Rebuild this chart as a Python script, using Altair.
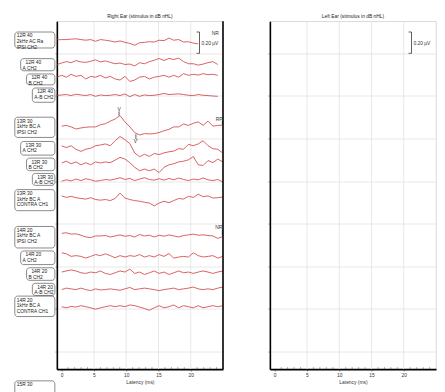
import altair as alt
import pandas as pd

# ---------------- data ----------------
TIME_MS = [-0.75, 0.0, 0.71, 1.46, 2.22, 2.98, 3.74, 4.49, 5.25, 6.01, 6.77, 7.53,
           8.28, 9.04, 9.8, 10.56, 11.31, 12.07, 12.83, 13.59, 14.34, 15.1, 15.86,
           16.62, 17.37, 18.13, 18.89, 19.65, 20.4, 21.16, 21.92, 22.68, 23.43,
           24.19, 24.95]

# baseline offset of each trace (µV) and amplitudes (in 0.01 µV)
TRACE_OFFSET_UV = [-0.274, -0.488, -0.624, -0.794, -1.084, -1.268, -1.42,
                   -1.588, -1.756, -2.108, -2.30, -2.454, -2.612, -2.78]
N = None
T1 = [0, 0.3, 0.3, 0.7, 1, 0.3, -0.3, 0.3, -1.3, 0.3, -0.3, -1, -2, -1, -2.3, -3.3, -5, -2.7,
      -2.3, -1.7, -2, -0.3, -0.7, 1.7, -0.3, 0.3, -2, -1.7, -3, -3.7, N, N, N, N, N]
T2 = [-1.7, -0.3, 1, 0, 2, 0.7, 0.3, 1.3, 2.7, 0.7, 1.7, 0.3, -1, -0.3, -1.7, -1.3, -3, 0,
      -1, 1, 2.3, 4, 2, 4, 3, 4.3, 1, -1, -1, -2.3, -1.3, 0, 1, -1.7, N]
T3 = [0, 1.7, 0, 2.7, 0.7, 1.7, -1.7, 0.7, 0, 1.7, -0.7, 0.7, -1.7, -2.7, 0.7, -4, -2.7, 0,
      0.7, -1.7, 0, 0.7, 1.7, 0, 1.7, 0, 3.3, 1.7, 2.7, 2, 3.3, 2.3, 2.7, 1.7, N]
T4 = [-0.3, 0.3, 0.7, -0.3, 1, 0.3, -0.3, 0.7, -1, 0.3, -0.3, 0, 0.7, -0.3, 1.3, -1.3, 0.7, -1,
      0.3, -0.3, 0, 0.7, 1.7, 0.7, 1, 1.3, 0.7, 0, -0.3, 0.7, 0, -0.3, -0.7, -1, N]
T5 = [N, 0, 0.7, -0.7, -2.7, -1.7, -1, -0.7, -0.7, 1.3, 2.3, 4.7, 6.7, 10, 4, -0.7, -6, -8.3,
      -7, -7.3, -7, -6, -4.3, -3, -0.7, -0.7, 2, 0.7, 2.7, 4, 0.7, 4.7, 0, 0.7, 1]
T6 = [N, 0, -1.7, 0, -3.3, -5.3, -3.3, -2.3, 0, 0.7, 1.7, 0, 4.7, 8.7, 5.7, 2, -6.7, -10.3,
      -8, -10, -7.3, -8.3, -6.7, -5.7, -5, -2.7, -3.3, 1.3, 0, 1.7, 4.7, 0, -2.7, -3.3, -6.7]
T7 = [N, -1, 0.7, -1.7, 0, -2.7, -0.7, -2.7, 0, -1, 0, -0.7, 1.7, 4.3, 2.7, -0.7, -5, -8.3,
      -6.7, -8.3, -6.7, -10, -5, -2.7, -1.7, 0, 0.7, 2, 5, -2.7, -3.3, 1.3, -0.7, 2.7, 0]
T8 = [N, -1.3, 0, -1, 0.7, -0.7, 1, 0, -1.3, -0.7, 0.3, -0.3, 0.7, 2, 0.3, 1.3, -0.7, 0.7,
      2, 0.3, -0.3, 1, -0.3, 1.3, 0, 1.7, 0.3, -0.7, 0.7, 0, 1.7, 0, -0.7, 0.3, -2]
T9 = [N, 1.7, 0.3, 1.3, 0, -0.7, -1.3, 0, -1.7, -2.3, -1.7, -2.7, -0.7, 4.3, -0.3, -1.7, -2.7,
      -3.3, -4.3, -5, -7.7, -5, -3.3, -4.7, -2.7, -0.7, -1.3, 1.3, 0.3, 3.3, 1, 1.7, -0.3, 0, 0.7]
T10 = [N, 1.7, 2.3, 1, 1.3, 0, -1.7, -2.3, -0.7, -0.7, -0.3, -1.7, -0.7, 0.3, -1, -0.3, -1.7,
       0.7, -0.7, 0, -1.7, 0, -1, 0.3, -0.7, -1.7, -0.3, 0.3, 1, 0, 0.3, -0.3, -0.7, -3, -1.3]
T11 = [N, 2.7, 1.7, -0.7, 0, -0.7, -2.3, -0.7, 1, 0, 1.7, 0, -2, 0, -1.3, 0, -0.7, 1, -1.3,
       0, -1.3, 1, -0.7, 2, -2.3, -1.3, -0.7, -1.3, 2.7, 0, -1.3, -0.7, 0, -2.3, -0.7]
T12 = [N, 0, 1, 2, 1, -0.7, -1.3, 0, -0.7, 1, -1.3, -2.3, -0.7, 1, 0, 2.7, -1.3, 0, -2.3,
       -0.7, 1, -1.3, 0, -2.3, -0.7, 1, -0.7, 0, -1.3, 0, 1, 0, -1.3, 0, 1]
T13 = [N, -0.7, 0.7, 0, -0.7, 0.7, -0.7, -1.7, 0, -1, -0.7, 0, -0.7, -1.3, 0, 1.3, -0.7, 0,
       0.7, 0, -0.7, -1.7, -0.7, 0, 0.7, -0.7, 0, 0.7, 1.7, 0, -0.7, 0, -0.7, 0.7, 1.7]
T14 = [N, 0, -1, 0.3, -0.3, 1, 0, -1, -2.3, -1, 0, 1, 0, 1, 0, 1.7, 1, -0.3, -1.7, -3.3, -1,
       1, -1, 0, 1.7, -1, 1, 0, -1, 1, -1, 0, 1, 0, 1]
TRACES = [T1, T2, T3, T4, T5, T6, T7, T8, T9, T10, T11, T12, T13, T14]
AMP_UNIT_UV = 0.01

# label boxes at the left of the right-ear panel (last one is cut by the window)
BOX_LINES = [["12R 40", "2kHz AC Ra", "IPSI CH2"], ["12R 40", "A CH2"], ["12R 40", "B CH2"],
             ["12R 40", "A-B CH2"], ["13R 30", "1kHz BC A", "IPSI CH2"], ["13R 30", "A CH2"],
             ["13R 30", "B CH2"], ["13R 30", "A-B CH2"], ["13R 30", "1kHz BC A", "CONTRA CH1"],
             ["14R 20", "1kHz BC A", "IPSI CH2"], ["14R 20", "A CH2"], ["14R 20", "B CH2"],
             ["14R 20", "A-B CH2"], ["14R 20", "1kHz BC A", "CONTRA CH1"], ["15R 30"]]
BOX_LEFT_MS = [-7.27, -6.36, -5.45, -4.55, -7.27, -6.36, -5.45, -4.55, -7.27, -7.27,
               -6.36, -5.45, -4.55, -7.27, -7.27]
BOX_RIGHT_MS = -1.06
BOX_TOP_UV = [-0.200, -0.450, -0.594, -0.726, -1.000, -1.228, -1.384, -1.528, -1.680,
              -2.026, -2.256, -2.414, -2.560, -2.680, -3.476]
BOX_BOTTOM_UV = [-0.350, -0.564, -0.696, -0.860, -1.190, -1.356, -1.502, -1.640, -1.878,
                 -2.228, -2.384, -2.532, -2.674, -2.872, -3.600]

FLAG_TEXT = ["NR", "RP", "NR"]
FLAG_MS = [23.8, 24.4, 24.35]
FLAG_UV = [-0.209, -1.017, -2.035]
FLAG_TICK_MS = [24.9, 24.9]
FLAG_TICK_FROM_UV = [-1.035, -2.055]
FLAG_TICK_TO_UV = [-1.065, -2.110]

MARK_TEXT = ["V", "V'"]
MARK_MS = [8.89, 11.5]
MARK_TEXT_UV = [-0.925, -1.226]
MARK_FROM_UV = [-0.945, -1.160]
MARK_TO_UV = [-0.985, -1.205]

SCALE_LABEL = "0.20 µV"
SCALE_MS_RIGHT = 21.36
SCALE_MS_LEFT = 21.2
SCALE_TOP_UV = -0.2
SCALE_BOTTOM_UV = -0.4

X_DOMAIN = [-0.75, 25]
Y_DOMAIN = [-3.366, -0.099]
Y_GRID_UV = [-0.2, -0.4, -0.6, -0.8, -1.0, -1.2, -1.4, -1.6, -1.8, -2.0, -2.2, -2.4,
             -2.6, -2.8, -3.0, -3.2]
X_MAJOR = [0, 5, 10, 15, 20]
X_GRID = [5, 10, 15, 20]
X_MINOR = [1, 2, 3, 4, 6, 7, 8, 9, 11, 12, 13, 14, 16, 17, 18, 19, 21, 22, 23, 24]
MINOR_TICK_UV = 0.018

FONT = "Liberation Sans"
RED = "#d03838"
GRID = "#e2e2e2"

# ---------------- frames ----------------
for tr in TRACES:
    assert len(tr) == len(TIME_MS)

trace_rows = []
for i, tr in enumerate(TRACES):
    for t, a in zip(TIME_MS, tr):
        if a is None:
            continue
        trace_rows.append({"trace": i, "t": t, "uv": TRACE_OFFSET_UV[i] + a * AMP_UNIT_UV})
traces_df = pd.DataFrame(trace_rows)

box_df = pd.DataFrame({"t": BOX_LEFT_MS, "t2": [BOX_RIGHT_MS] * len(BOX_LEFT_MS),
                       "uv": BOX_TOP_UV, "uv2": BOX_BOTTOM_UV})
text_rows = []
for i, lines in enumerate(BOX_LINES):
    for j, s in enumerate(lines):
        indent = 0.45 if (len(lines) == 2 and j == 0) else 0.0
        text_rows.append({"t": BOX_LEFT_MS[i] + 0.3 + indent,
                          "uv": BOX_TOP_UV[i] - 0.033 - 0.052 * j, "label": s})
box_text_df = pd.DataFrame(text_rows)

X_SCALE = alt.Scale(domain=X_DOMAIN, nice=False, zero=False)
Y_SCALE = alt.Scale(domain=Y_DOMAIN, nice=False, zero=False)


def x_enc():
    return alt.X("t:Q", scale=X_SCALE,
                 axis=alt.Axis(values=X_MAJOR, grid=False, tickSize=2,
                               domainColor="#000000", domainWidth=1.6,
                               tickColor="#555555", tickWidth=0.6,
                               labelFontSize=5, labelFont=FONT, labelColor="#333333",
                               labelPadding=2, labelFlush=False, labelOverlap=False,
                               title="Latency (ms)", titleFontSize=5, titleFont=FONT,
                               titleFontWeight="normal", titleColor="#333333", titlePadding=2))


def y_enc():
    return alt.Y("uv:Q", scale=Y_SCALE,
                 axis=alt.Axis(values=Y_GRID_UV, labels=False, tickSize=2,
                               domainColor="#000000", domainWidth=1.6,
                               tickColor="#555555", tickWidth=0.6,
                               grid=True, gridColor=GRID, gridWidth=0.8, title=None))


def panel_frame():
    vgrid = alt.Chart(pd.DataFrame({"t": X_GRID, "uv": [Y_DOMAIN[0]] * len(X_GRID),
                                    "uv2": [Y_DOMAIN[1]] * len(X_GRID)})).mark_rule(
        color=GRID, strokeWidth=0.8).encode(x=x_enc(), y=y_enc(), y2="uv2:Q")
    minor = alt.Chart(pd.DataFrame({"t": X_MINOR, "uv": [Y_DOMAIN[0]] * len(X_MINOR),
                                    "uv2": [Y_DOMAIN[0] + MINOR_TICK_UV] * len(X_MINOR)})).mark_rule(
        color="#555555", strokeWidth=0.6).encode(x="t:Q", y="uv:Q", y2="uv2:Q")
    return [vgrid, minor]


def scalebar(ms):
    vert = alt.Chart(pd.DataFrame({"t": [ms], "uv": [SCALE_TOP_UV], "uv2": [SCALE_BOTTOM_UV]})).mark_rule(
        color="#333333", strokeWidth=0.8).encode(x="t:Q", y="uv:Q", y2="uv2:Q")
    arms = alt.Chart(pd.DataFrame({"t": [ms - 0.45, ms - 0.45], "t2": [ms, ms],
                                   "uv": [SCALE_TOP_UV, SCALE_BOTTOM_UV]})).mark_rule(
        color="#333333", strokeWidth=0.8).encode(x="t:Q", x2="t2:Q", y="uv:Q")
    lab = alt.Chart(pd.DataFrame({"t": [ms + 0.3], "uv": [(SCALE_TOP_UV + SCALE_BOTTOM_UV) / 2],
                                  "label": [SCALE_LABEL]})).mark_text(
        align="left", baseline="middle", fontSize=5, font=FONT, color="#333333").encode(
        x="t:Q", y="uv:Q", text="label:N")
    return [vert, arms, lab]


traces = alt.Chart(traces_df).mark_line(color=RED, strokeWidth=0.8).encode(
    x="t:Q", y="uv:Q", detail="trace:N")

boxes = alt.Chart(box_df).mark_rect(cornerRadius=3, fill="white", stroke="#555555",
                                    strokeWidth=0.7).encode(x="t:Q", x2="t2:Q", y="uv:Q", y2="uv2:Q")
box_text = alt.Chart(box_text_df).mark_text(align="left", baseline="middle", fontSize=5,
                                            font=FONT, color="#222222").encode(
    x="t:Q", y="uv:Q", text="label:N")

flags = alt.Chart(pd.DataFrame({"t": FLAG_MS, "uv": FLAG_UV, "label": FLAG_TEXT})).mark_text(
    align="center", baseline="middle", fontSize=5, font=FONT, color="#333333").encode(
    x="t:Q", y="uv:Q", text="label:N")
flag_ticks = alt.Chart(pd.DataFrame({"t": FLAG_TICK_MS, "uv": FLAG_TICK_FROM_UV,
                                     "uv2": FLAG_TICK_TO_UV})).mark_rule(
    color="#333333", strokeWidth=0.8).encode(x="t:Q", y="uv:Q", y2="uv2:Q")

marks = alt.Chart(pd.DataFrame({"t": MARK_MS, "uv": MARK_FROM_UV, "uv2": MARK_TO_UV})).mark_rule(
    color="#333333", strokeWidth=0.8).encode(x="t:Q", y="uv:Q", y2="uv2:Q")
mark_text = alt.Chart(pd.DataFrame({"t": MARK_MS, "uv": MARK_TEXT_UV, "label": MARK_TEXT})).mark_text(
    align="center", baseline="middle", fontSize=5, font=FONT, color="#333333").encode(
    x="t:Q", y="uv:Q", text="label:N")

border = alt.Chart(pd.DataFrame({"t": [X_DOMAIN[1]], "uv": [Y_DOMAIN[0]], "uv2": [Y_DOMAIN[1]]})).mark_rule(
    color="#000000", strokeWidth=1.6).encode(x="t:Q", y="uv:Q", y2="uv2:Q")

PLOT_W = 170
PLOT_H = 356

right = alt.layer(*panel_frame(), traces, boxes, box_text, *scalebar(SCALE_MS_RIGHT),
                  flags, flag_ticks, marks, mark_text, border).properties(
    width=PLOT_W, height=PLOT_H, title="Right Ear (stimulus in dB nHL)")

left = alt.layer(*panel_frame(), *scalebar(SCALE_MS_LEFT)).properties(
    width=PLOT_W, height=PLOT_H, title="Left Ear (stimulus in dB nHL)")

chart = alt.hconcat(right, left, spacing=43).properties(
    padding={"left": 6, "top": 0, "right": 0, "bottom": 0}
).configure_view(stroke="#cfcfcf", strokeWidth=0.8).configure_title(
    fontSize=5, font=FONT, fontWeight="normal", color="#222222", offset=2, anchor="middle")

chart.save("out.html", embed_options={"renderer": "svg", "actions": False})
